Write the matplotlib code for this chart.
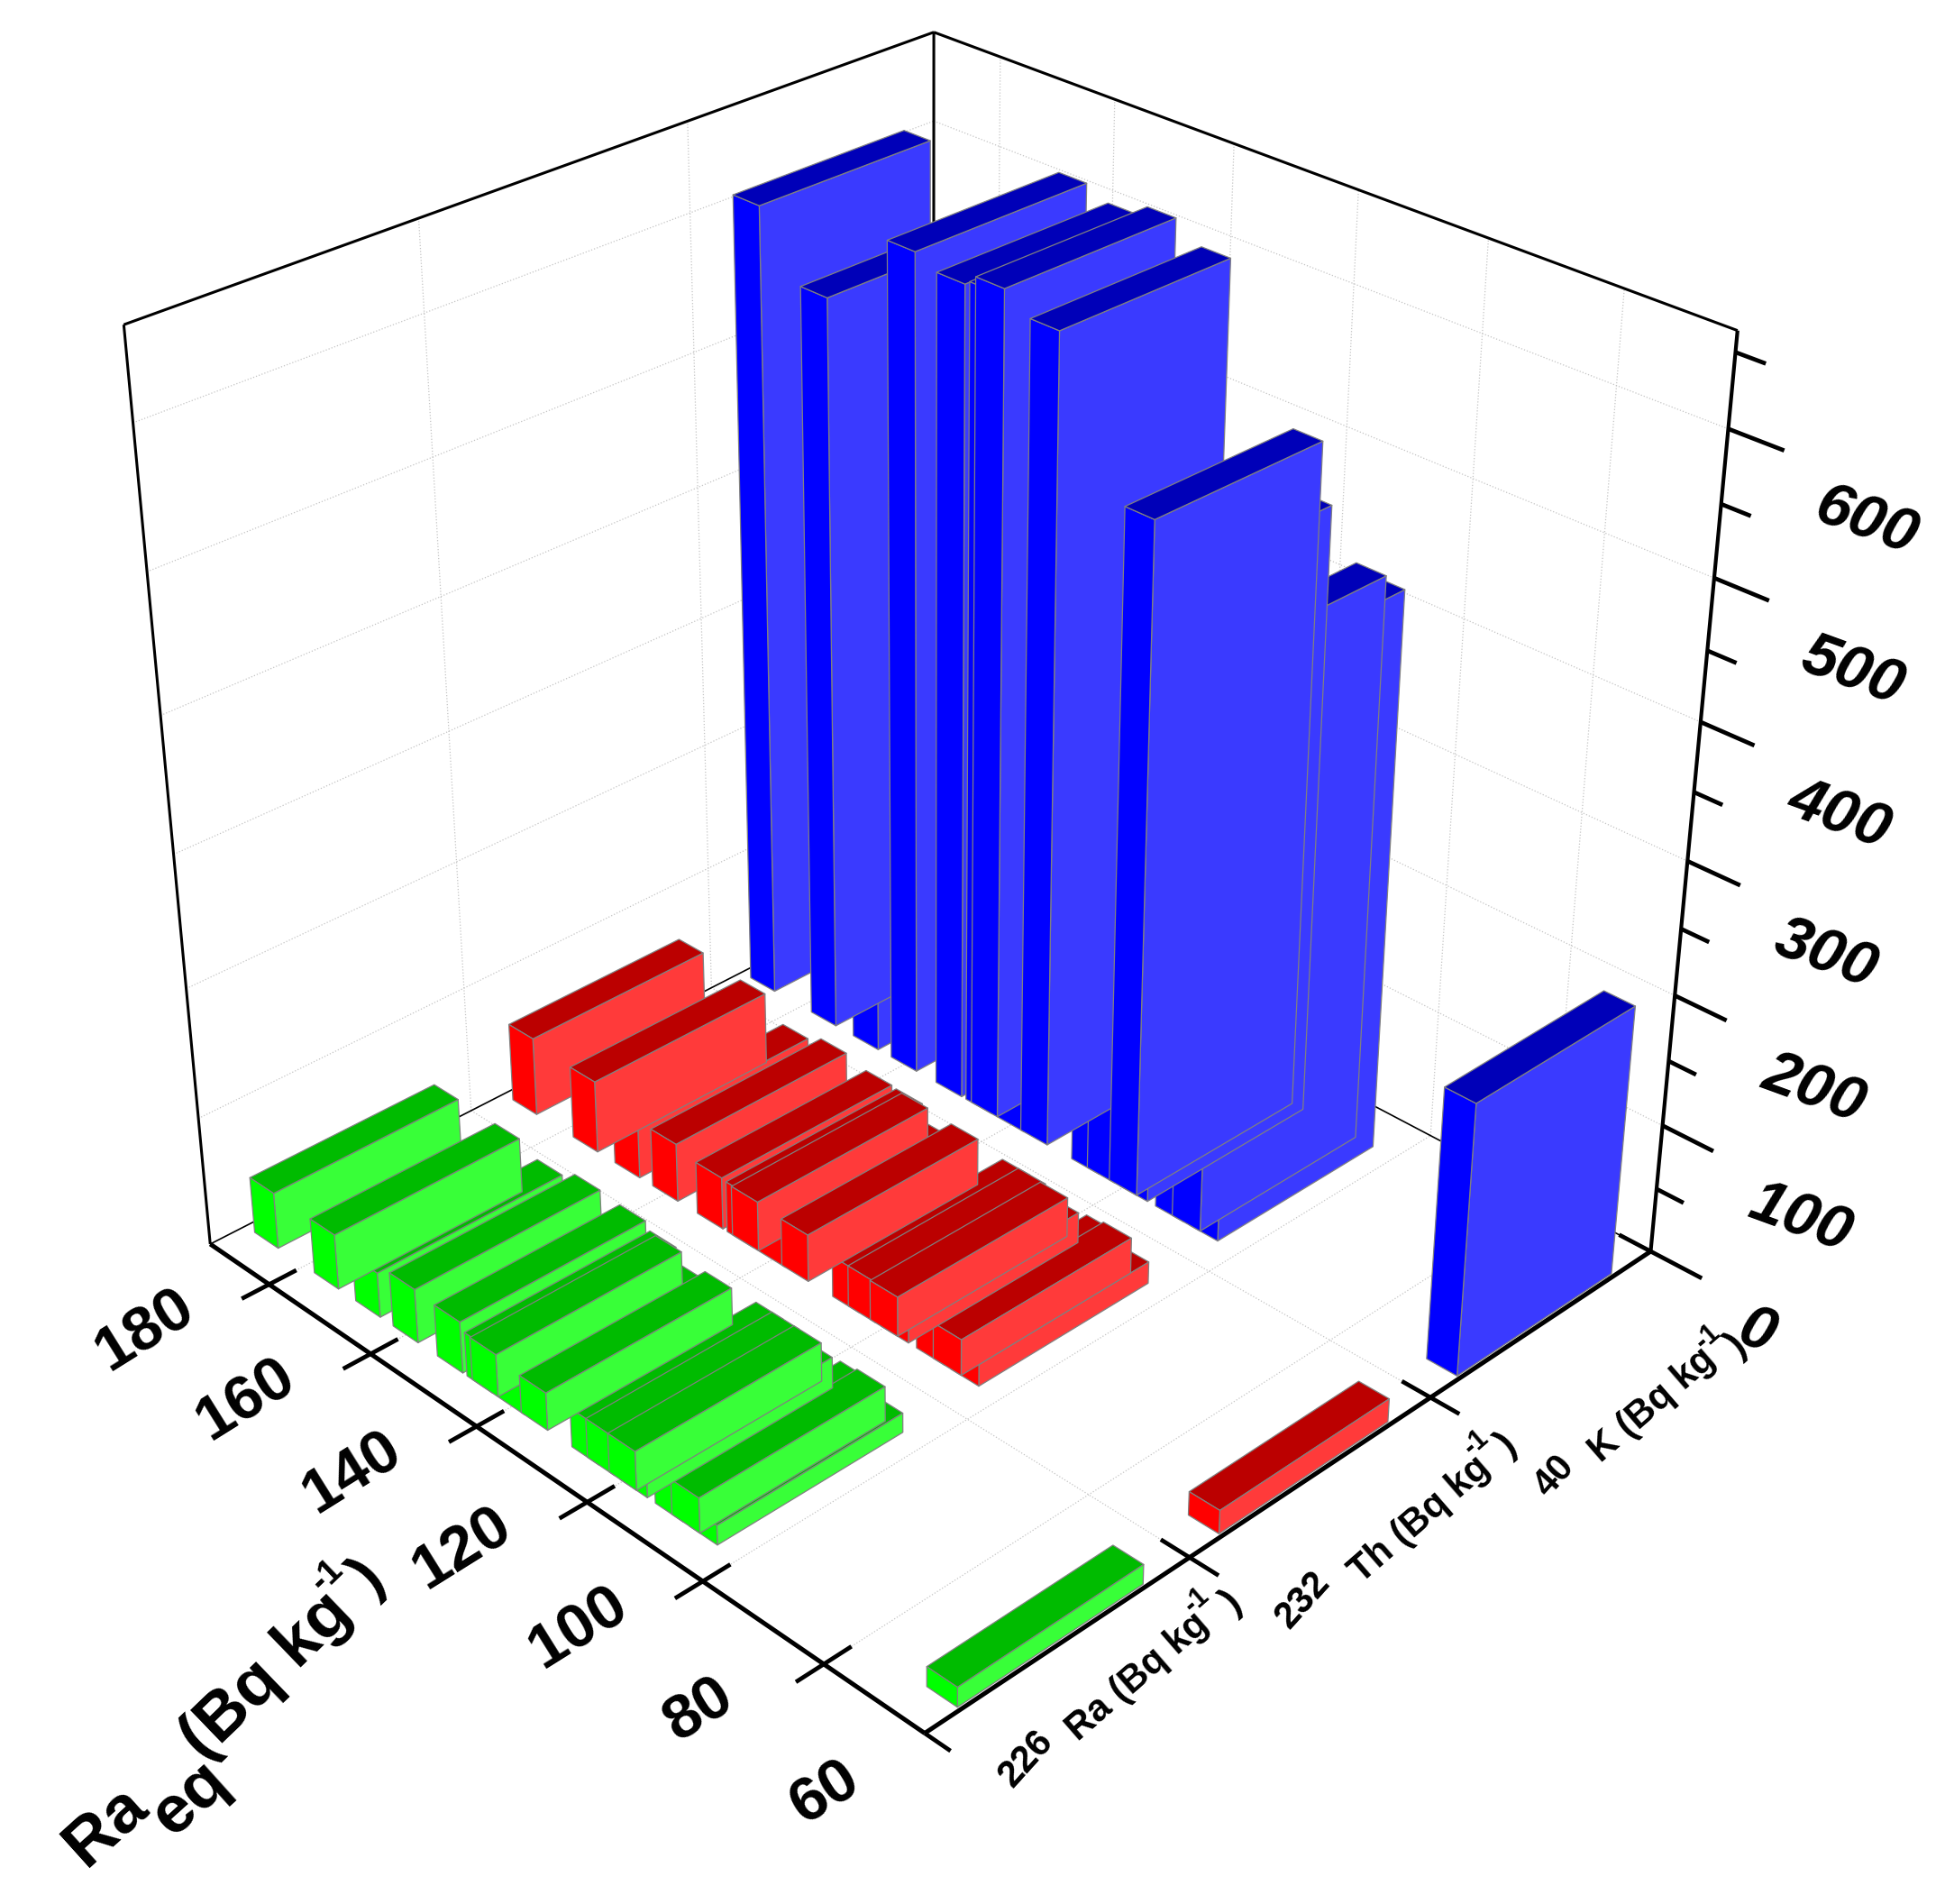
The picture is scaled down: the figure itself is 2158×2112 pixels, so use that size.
import numpy as np
import matplotlib
matplotlib.use('Agg')
import matplotlib.pyplot as plt
from mpl_toolkits.mplot3d import proj3d

# sample order, this is also the order the bars get painted in
ra_eq = [167.4,187.7,175.6,160.1,151.6,140.1,146,145,111.9,106,109,118.1,126.7,123.9,135.9,120,66.9]
ra226 = [35,44,43,42,40,22,34,33,25,15,27,24,30,30,29,30,15]
th232 = [40,62,57,46,41,26,40,39,26,17,28,24,32,32,37,31,18]
k40 = [350,607,562,620,612,300,615,620,280,428,432,465,430,450,607,507,208]

x_ticks = [60,80,100,120,140,160,180]
z_major = [0,100,200,300,400,500,600]
z_minor = [50,150,250,350,450,550,650]

W,H = 2158,2112
plt.rcParams['font.family'] = ['Liberation Sans','DejaVu Sans']
fig = plt.figure(figsize=(W/100,H/100),dpi=100)
ax = fig.add_axes([-53.1/W,124.8/H,H/W,1],projection='3d')
ax.computed_zorder = False
ax.set_axis_off()

XMIN,XMAX,ZMAX = 64,192,664
bar_w,bar_d,bar_off = 4.8,0.70,0.13

series = [(2,k40,'#0000FF','#3A3AFF','#0000B8'),
          (1,th232,'#FF0000','#FF3A3A','#BB0000'),
          (0,ra226,'#00FF00','#38FF38','#00BB00')]

zo = 10
for row,vals,side,front,top in series:
    for x,v in zip(ra_eq,vals):
        # faces: -Z,+Z,-Y,+Y,-X,+X
        fc = ['none',top,side,'none',front,'none']
        ec = ['none','#808080','#808080','none','#808080','none']
        b = ax.bar3d(x-bar_w/2,row+bar_off,0,bar_w,bar_d,v,color=fc,
                     edgecolors=ec,linewidths=0.9,shade=False)
        b.set_zorder(zo)
        zo += 1

ax.set_xlim(XMAX,XMIN)
ax.set_ylim(0,3)
ax.set_zlim(0,ZMAX)
ax.view_init(30.497,-44.582)
ax.set_proj_type('persp',focal_length=0.4625)
ax.set_box_aspect((1,0.9973,0.9873),zoom=0.9472)

def line(x,y,z,lw=2,c='k',ls='-',zo=3):
    ax.plot(x,y,z,color=c,lw=lw,ls=ls,zorder=zo,solid_capstyle='butt')

# grid
gc = '#c4c4c4'
for t in x_ticks[1:]:
    line([t,t],[0,3],[0,0],0.9,gc,':',1)
    line([t,t],[3,3],[0,ZMAX],0.9,gc,':',1)
for t in [1,2]:
    line([XMIN,XMAX],[t,t],[0,0],0.9,gc,':',1)
    line([XMAX,XMAX],[t,t],[0,ZMAX],0.9,gc,':',1)
for t in z_major[1:]:
    line([XMAX,XMAX],[0,3],[t,t],0.9,gc,':',1)
    line([XMIN,XMAX],[3,3],[t,t],0.9,gc,':',1)

# box
line([XMAX,XMAX],[0,3],[ZMAX,ZMAX],2.2)
line([XMAX,XMIN],[3,3],[ZMAX,ZMAX],2.2)
line([XMAX,XMAX],[3,3],[0,ZMAX],2.2)
line([XMAX,XMAX],[0,0],[0,ZMAX],2.2)
line([XMIN,XMIN],[3,3],[0,ZMAX],3)
line([XMAX,XMAX],[0,3],[0,0],1.2)
line([XMAX,XMIN],[3,3],[0,0],1.2)
line([XMAX,XMIN],[0,0],[0,0],3.6,zo=5)
line([XMIN,XMIN],[0,3],[0,0],3.6,zo=5)

# ticks
for t in x_ticks[1:]:
    line([t,t],[-0.10,0.10],[0,0],3.4,zo=5)
line([XMIN,60],[0,0],[0,0],3.4,zo=5)
for t in [1,2]:
    line([XMIN-4.5,XMIN+4.5],[t,t],[0,0],3.4,zo=5)
line([XMIN-8,XMIN+5],[3,3],[0,0],3.4,zo=5)
for t in z_major[1:]:
    line([XMIN-7.8,XMIN],[3,3],[t,t],3.4,zo=5)
for t in z_minor:
    line([XMIN-4.2,XMIN],[3,3],[t,t],3.4,zo=5)

M = ax.get_proj()
def tick_label(x,y,z,s,dx,dy,rot,ha,style):
    vx,vy,_ = proj3d.proj_transform(x,y,z,M)
    ax.annotate(s,(vx,vy),xytext=(dx,dy),textcoords='offset pixels',fontsize=50,
                fontweight='bold',style=style,rotation=rot,rotation_mode='anchor',
                ha=ha,va='center',annotation_clip=False,zorder=1000)

for t in x_ticks:
    tick_label(max(t,XMIN),0,0,str(t),-138 if t>60 else -110,-51 if t>60 else -66,32,'center','normal')
for t in z_major:
    tick_label(XMIN,3,t,str(t),99,-84,-20,'left','italic')

def lab(x,y,s,size,rot):
    fig.text(x/1568,1-y/1535,s,fontsize=size,fontweight='bold',rotation=rot,
             rotation_mode='anchor',ha='center',va='center')

lab(85,1472,'Ra',54,42)
lab(153,1450,'eq',54,42)
lab(215,1351,'(Bq kg',54,44)
lab(264,1270,'-1',28,44)
lab(297,1272,')',50,44)

lab(827,1418,'226',30,48)
lab(917,1352,'Ra (Bq kg',30,41)
lab(965,1290,'-1',22,41)
lab(993,1292,')',32,41)
lab(1050,1290,'232',30,48)
lab(1145,1225,'Th (Bq kg',30,41)
lab(1190,1163,'-1',22,41)
lab(1215,1165,')',32,41)
lab(1253,1190,'40',30,48)
lab(1332,1133,'K (Bq kg',30,41)
lab(1377,1078,'-1',22,41)
lab(1400,1085,')',32,41)

fig.savefig('out.png',dpi=100)
